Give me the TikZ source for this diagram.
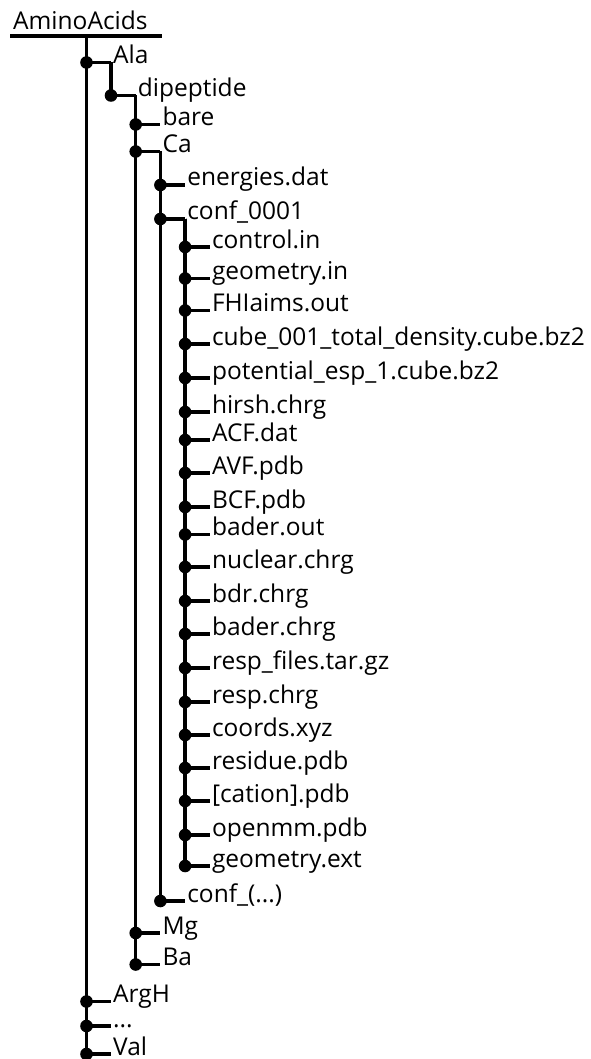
\documentclass[tikz,border=0pt]{standalone}
\usepackage{fontspec}
\setmainfont{Open Sans}
\usetikzlibrary{calc}
\newcommand\mydots{...}
\tikzset{
  lbl/.style={anchor=base west, inner sep=0pt, font=\fontsize{24.5}{28}\selectfont},
  edge/.style={line width=3.3pt},
  dotm/.style={fill=black},
}
\begin{document}
\begin{tikzpicture}[x=1pt,y=-1pt]
\useasboundingbox (0,0) rectangle (590,1059);
% root
\node[lbl] (root) at (13,30) {AminoAcids};
\coordinate (rootl) at (10,36);
\coordinate (rootr) at (162,36);
\coordinate (rootc) at (86.5,36);
\draw[edge] (rootl) -- (rootr);
% level positions
\def\xa{111}\def\xb{135.7}\def\xc{160.4}\def\xd{185.1}\def\xe{209.8}
% level 1
\coordinate (ala) at (\xa,62.5);
\coordinate (argh) at (\xa,1001.5);
\coordinate (etc) at (\xa,1026);
\coordinate (val) at (\xa,1054);
\foreach \c/\t in {ala/Ala, argh/ArgH, etc/\mydots, val/Val}{
  \node[lbl] (t-\c) at ($(\c)+(2,1)$) {\t};
  \draw[edge] (rootc) |- (\c);
  \fill[dotm] (rootc |- \c) circle (6.3pt);
}
% level 2
\coordinate (dip) at (\xb,95.5);
\node[lbl] (t-dip) at ($(dip)+(2,1)$) {dipeptide};
\draw[edge] (ala) |- (dip);
\fill[dotm] (ala |- dip) circle (6.3pt);
% level 3
\coordinate (bare) at (\xc,124.5);
\coordinate (ca) at (\xc,151.5);
\coordinate (mg) at (\xc,933);
\coordinate (ba) at (\xc,964.5);
\foreach \c/\t in {bare/bare, ca/Ca, mg/Mg, ba/Ba}{
  \node[lbl] (t-\c) at ($(\c)+(2,1)$) {\t};
  \draw[edge] (dip) |- (\c);
  \fill[dotm] (dip |- \c) circle (6.3pt);
}
% level 4
\coordinate (en) at (\xd,185);
\coordinate (cone) at (\xd,219);
\coordinate (cx) at (\xd,901);
\foreach \c/\t in {en/energies.dat, cone/conf\_0001, cx/conf\_(\mydots)}{
  \node[lbl] (t-\c) at ($(\c)+(2,1)$) {\t};
  \draw[edge] (ca) |- (\c);
  \fill[dotm] (ca |- \c) circle (6.3pt);
}
% level 5 files
\foreach \n/\y/\t in {
  1/247/control.in,
  2/278.5/geometry.in,
  3/310.5/FHIaims.out,
  4/344/cube\_001\_total\_density.cube.bz2,
  5/378/potential\_esp\_1.cube.bz2,
  6/412/hirsh.chrg,
  7/440/ACF.dat,
  8/473/AVF.pdb,
  9/507/BCF.pdb,
  10/534.5/bader.out,
  11/567/nuclear.chrg,
  12/601/bdr.chrg,
  13/634/bader.chrg,
  14/668/resp\_files.tar.gz,
  15/702/resp.chrg,
  16/735/coords.xyz,
  17/768/residue.pdb,
  18/801/{[cation].pdb},
  19/835/openmm.pdb,
  20/866/geometry.ext}{
  \coordinate (f\n) at (\xe,\y);
  \node[lbl] (t-f\n) at ($(f\n)+(2,1)$) {\t};
  \draw[edge] (cone) |- (f\n);
  \fill[dotm] (cone |- f\n) circle (6.3pt);
}
\end{tikzpicture}
\end{document}
